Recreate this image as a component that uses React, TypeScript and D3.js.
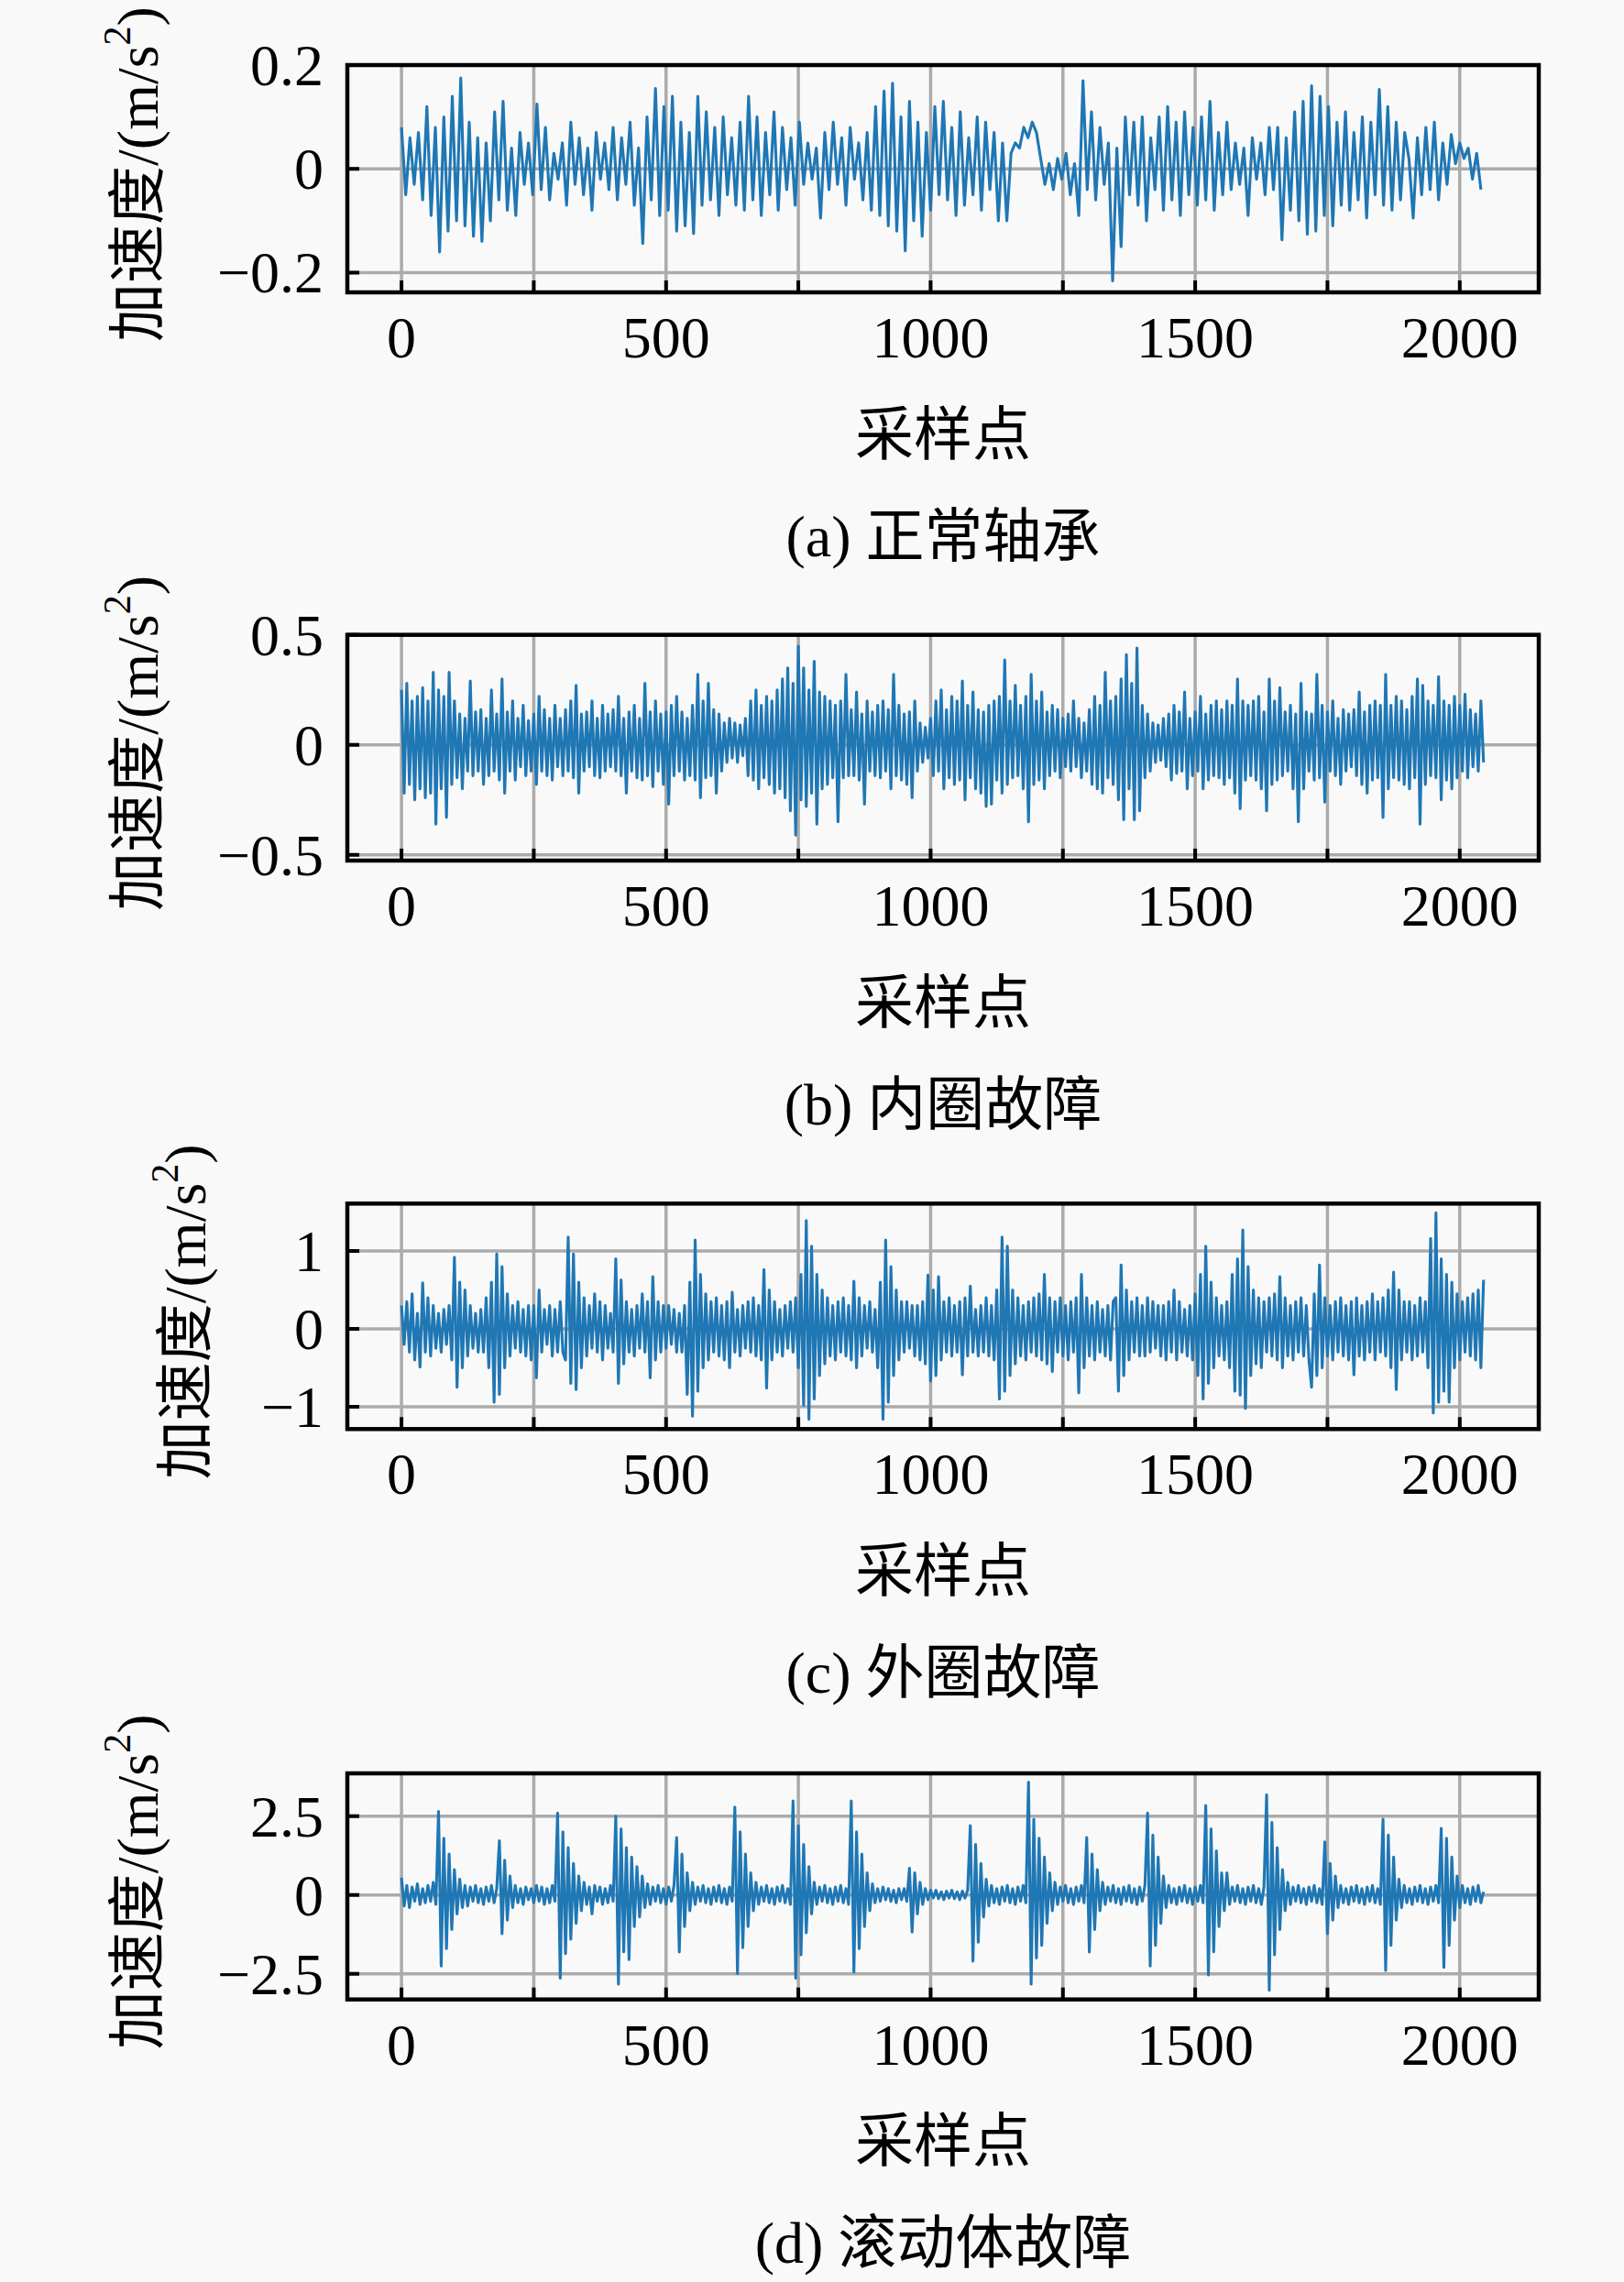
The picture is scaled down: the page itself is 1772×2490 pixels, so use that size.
import React from 'react';
import * as d3 from 'd3';

// sample index ticks (grid every 250, labels every 500)
const xGridTicks = [0, 250, 500, 750, 1000, 1250, 1500, 1750, 2000];
const xLabelTicks = [0, 500, 1000, 1500, 2000];

// (a) normal bearing, one value every 8 samples
const normalBearing = [
  0.08, -0.05, 0.06, -0.03, 0.07, -0.06, 0.12, -0.09, 0.08, -0.16, 0.10, -0.12, 0.14, -0.10, 0.175, -0.11,
  0.09, -0.13, 0.06, -0.14, 0.05, -0.10, 0.11, -0.06, 0.13, -0.08, 0.04, -0.09, 0.07, -0.03, 0.05, -0.05,
  0.125, -0.04, 0.08, -0.06, 0.03, -0.02, 0.05, -0.07, 0.09, -0.03, 0.06, -0.05, 0.04, -0.08, 0.07, -0.02,
  0.05, -0.04, 0.08, -0.06, 0.06, -0.03, 0.09, -0.07, 0.04, -0.144, 0.10, -0.06, 0.155, -0.09, 0.12, -0.08,
  0.14, -0.12, 0.09, -0.11, 0.07, -0.125, 0.14, -0.07, 0.11, -0.06, 0.08, -0.09, 0.10, -0.05, 0.06, -0.07,
  0.09, -0.08, 0.14, -0.06, 0.10, -0.09, 0.07, -0.05, 0.11, -0.08, 0.08, -0.04, 0.06, -0.07, 0.09, -0.03,
  0.05, -0.02, 0.04, -0.095, 0.07, -0.04, 0.09, -0.03, 0.06, -0.07, 0.08, -0.02, 0.05, -0.06, 0.07, -0.08,
  0.12, -0.09, 0.15, -0.11, 0.165, -0.12, 0.10, -0.158, 0.13, -0.10, 0.09, -0.13, 0.07, -0.08, 0.12, -0.05,
  0.13, -0.06, 0.08, -0.09, 0.11, -0.07, 0.06, -0.05, 0.10, -0.08, 0.09, -0.04, 0.07, -0.10, 0.05, -0.10,
  0.03, 0.05, 0.04, 0.08, 0.06, 0.09, 0.07, 0.02, -0.03, 0.01, -0.04, 0.02, -0.02, 0.03, -0.05, 0.01,
  -0.09, 0.17, -0.04, 0.11, -0.06, 0.08, -0.03, 0.05, -0.216, 0.04, -0.15, 0.10, -0.05, 0.09, -0.07, 0.10,
  -0.10, 0.06, -0.04, 0.10, -0.08, 0.12, -0.06, 0.09, -0.09, 0.11, -0.05, 0.08, -0.07, 0.10, -0.06, 0.13,
  -0.08, 0.07, -0.05, 0.09, -0.04, 0.05, -0.03, 0.04, -0.09, 0.06, -0.02, 0.05, -0.05, 0.08, -0.04, 0.08,
  -0.137, 0.06, -0.08, 0.11, -0.10, 0.13, -0.126, 0.16, -0.12, 0.14, -0.09, 0.12, -0.11, 0.09, -0.07, 0.11,
  -0.08, 0.07, -0.06, 0.10, -0.095, 0.09, -0.05, 0.153, -0.07, 0.12, -0.08, 0.09, -0.06, 0.07, 0.02, -0.095,
  0.06, -0.05, 0.08, -0.04, 0.09, -0.06, 0.05, -0.03, 0.066, 0.01, 0.05, 0.02, 0.04, -0.02, 0.03, -0.04,
];

// (b) inner race fault, one value every 5 samples
const innerRaceFault = [
  0.25, -0.22, 0.28, -0.18, 0.2, -0.25, 0.22, -0.2, 0.26, -0.24,
  0.2, -0.22, 0.33, -0.36, 0.25, -0.2, 0.22, -0.33, 0.33, -0.18,
  0.2, -0.15, 0.14, -0.2, 0.12, -0.12, 0.29, -0.14, 0.15, -0.12,
  0.16, -0.18, 0.12, -0.14, 0.25, -0.12, 0.14, -0.16, 0.3, -0.22,
  0.15, -0.12, 0.2, -0.16, 0.12, -0.1, 0.18, -0.14, 0.11, -0.12,
  0.14, -0.18, 0.22, -0.12, 0.16, -0.14, 0.12, -0.16, 0.18, -0.1,
  0.12, -0.14, 0.16, -0.12, 0.2, -0.15, 0.27, -0.22, 0.14, -0.12,
  0.15, -0.1, 0.2, -0.14, 0.12, -0.15, 0.18, -0.12, 0.14, -0.1,
  0.16, -0.12, 0.22, -0.14, 0.12, -0.22, 0.15, -0.12, 0.18, -0.15,
  0.12, -0.16, 0.28, -0.14, 0.15, -0.19, 0.2, -0.12, 0.14, -0.18,
  0.15, -0.27, 0.18, -0.14, 0.22, -0.12, 0.15, -0.16, 0.12, -0.14,
  0.18, -0.16, 0.32, -0.24, 0.2, -0.15, 0.28, -0.14, 0.16, -0.22,
  0.14, -0.12, 0.1, -0.08, 0.12, -0.06, 0.1, -0.08, 0.09, -0.05,
  0.12, -0.14, 0.2, -0.16, 0.25, -0.2, 0.18, -0.15, 0.22, -0.18,
  0.2, -0.22, 0.25, -0.2, 0.3, -0.24, 0.35, -0.3, 0.28, -0.41,
  0.449, -0.25, 0.35, -0.28, 0.25, -0.22, 0.38, -0.36, 0.24, -0.2,
  0.22, -0.18, 0.2, -0.15, 0.18, -0.35, 0.2, -0.15, 0.32, -0.14,
  0.16, -0.14, 0.24, -0.16, 0.14, -0.27, 0.2, -0.12, 0.15, -0.14,
  0.18, -0.15, 0.2, -0.12, 0.16, -0.2, 0.32, -0.14, 0.18, -0.16,
  0.14, -0.18, 0.15, -0.24, 0.2, -0.12, 0.1, -0.08, 0.08, -0.06,
  0.12, -0.14, 0.2, -0.12, 0.25, -0.2, 0.16, -0.15, 0.22, -0.18,
  0.2, -0.16, 0.29, -0.25, 0.18, -0.15, 0.24, -0.2, 0.16, -0.22,
  0.15, -0.28, 0.18, -0.27, 0.2, -0.16, 0.22, -0.22, 0.386, -0.18,
  0.2, -0.15, 0.27, -0.14, 0.18, -0.2, 0.22, -0.35, 0.32, -0.18,
  0.2, -0.16, 0.24, -0.2, 0.15, -0.14, 0.18, -0.12, 0.16, -0.15,
  0.12, -0.1, 0.14, -0.12, 0.2, -0.1, 0.12, -0.15, 0.1, -0.12,
  0.16, -0.18, 0.22, -0.2, 0.18, -0.22, 0.33, -0.15, 0.2, -0.18,
  0.22, -0.25, 0.3, -0.34, 0.41, -0.2, 0.28, -0.34, 0.44, -0.3,
  0.18, -0.15, 0.14, -0.12, 0.1, -0.08, 0.09, -0.07, 0.12, -0.1,
  0.14, -0.16, 0.18, -0.13, 0.15, -0.12, 0.24, -0.2, 0.12, -0.14,
  0.15, -0.12, 0.22, -0.2, 0.14, -0.16, 0.18, -0.14, 0.2, -0.15,
  0.16, -0.18, 0.2, -0.15, 0.18, -0.22, 0.3, -0.29, 0.2, -0.16,
  0.18, -0.14, 0.2, -0.16, 0.22, -0.2, 0.15, -0.3, 0.3, -0.18,
  0.2, -0.16, 0.26, -0.14, 0.15, -0.12, 0.18, -0.2, 0.14, -0.35,
  0.28, -0.2, 0.15, -0.12, 0.14, -0.16, 0.32, -0.15, 0.18, -0.26,
  0.15, -0.12, 0.2, -0.14, 0.12, -0.18, 0.16, -0.12, 0.14, -0.1,
  0.16, -0.14, 0.24, -0.18, 0.15, -0.22, 0.18, -0.16, 0.2, -0.15,
  0.18, -0.33, 0.32, -0.2, 0.18, -0.15, 0.22, -0.16, 0.2, -0.18,
  0.16, -0.2, 0.22, -0.15, 0.3, -0.36, 0.27, -0.18, 0.2, -0.14,
  0.18, -0.15, 0.31, -0.25, 0.2, -0.16, 0.18, -0.2, 0.22, -0.15,
  0.18, -0.12, 0.23, -0.15, 0.16, -0.1, 0.14, -0.12, 0.2, -0.08,
];

// (c) outer race fault, one value every 5 samples
const outerRaceFault = [
  0.3, -0.2, 0.35, -0.3, 0.45, -0.4, 0.2, -0.49, 0.59, -0.3,
  0.4, -0.35, 0.3, -0.25, 0.2, -0.3, 0.25, -0.2, 0.3, -0.4,
  0.92, -0.75, 0.6, -0.5, 0.5, -0.35, 0.3, -0.25, 0.2, -0.3,
  0.25, -0.3, 0.4, -0.5, 0.6, -0.94, 0.96, -0.84, 0.8, -0.5,
  0.45, -0.35, 0.3, -0.25, 0.35, -0.3, 0.25, -0.35, 0.3, -0.4,
  0.3, -0.63, 0.5, -0.3, 0.25, -0.2, 0.3, -0.35, 0.25, -0.3,
  0.35, -0.3, -0.4, 1.18, -0.7, 0.96, -0.78, 0.6, -0.5, 0.4,
  -0.35, 0.3, -0.25, 0.45, -0.3, 0.35, -0.4, 0.3, -0.25, 0.2,
  -0.3, 0.9, -0.7, 0.63, -0.45, 0.35, -0.3, 0.25, -0.35, 0.3,
  -0.25, 0.45, -0.3, 0.35, -0.63, 0.67, -0.4, 0.35, -0.3, 0.3,
  -0.25, 0.3, -0.2, 0.25, -0.3, 0.2, -0.3, 0.3, -0.84, 0.6,
  -1.12, 1.14, -0.8, 0.7, -0.5, 0.45, -0.4, 0.35, -0.3, 0.4,
  -0.35, 0.3, -0.4, 0.35, -0.5, 0.47, -0.3, 0.25, -0.35, 0.3,
  -0.25, 0.35, -0.3, 0.4, -0.35, 0.3, -0.4, 0.76, -0.76, 0.5,
  -0.4, 0.35, -0.3, 0.25, -0.35, 0.3, -0.25, 0.35, -0.3, 0.4,
  -0.5, 0.7, -0.98, 1.39, -1.16, 1.06, -0.9, 0.7, -0.6, 0.5,
  -0.45, 0.4, -0.35, 0.3, -0.4, 0.35, -0.3, 0.4, -0.35, 0.3,
  -0.4, 0.61, -0.5, 0.4, -0.35, 0.3, -0.25, 0.35, -0.3, 0.25,
  -0.5, 0.6, -1.16, 1.14, -0.94, 0.8, -0.6, 0.5, -0.4, 0.35,
  -0.3, 0.35, -0.25, 0.3, -0.35, 0.3, -0.4, 0.35, -0.45, 0.69,
  -0.67, 0.5, -0.6, 0.67, -0.4, 0.35, -0.3, 0.4, -0.35, 0.3,
  -0.3, 0.35, -0.59, 0.4, -0.35, 0.55, -0.3, 0.25, -0.35, 0.3,
  -0.3, 0.4, -0.35, 0.3, -0.4, 0.5, -0.9, 1.18, -0.8, 1.06,
  -0.6, 0.5, -0.45, 0.4, -0.35, 0.3, -0.4, 0.35, -0.3, 0.4,
  -0.35, 0.45, -0.4, 0.7, -0.45, 0.4, -0.55, 0.35, -0.3, 0.4,
  -0.35, 0.3, -0.4, 0.35, -0.3, 0.4, -0.82, 0.7, -0.5, 0.4,
  -0.35, 0.3, -0.4, 0.35, -0.3, 0.25, -0.35, 0.3, -0.4, 0.35,
  0.4, -0.8, 0.82, -0.6, 0.5, -0.4, 0.35, -0.3, 0.4, -0.35,
  0.3, -0.35, 0.4, -0.3, 0.35, -0.25, 0.3, -0.35, 0.3, -0.4,
  0.35, -0.3, 0.5, -0.4, 0.35, -0.3, 0.25, -0.35, 0.3, -0.4,
  0.45, -0.6, 0.7, -0.9, 1.06, -0.7, 0.6, -0.5, 0.4, -0.35,
  0.3, -0.4, 0.35, -0.5, 0.7, -0.8, 0.9, -0.85, 1.27, -1.02,
  0.8, -0.6, 0.5, -0.45, 0.4, -0.5, 0.35, -0.3, 0.4, -0.35,
  0.45, -0.4, 0.67, -0.5, 0.4, -0.35, 0.3, -0.4, 0.35, -0.3,
  0.4, -0.35, 0.3, -0.4, -0.75, 0.45, -0.6, 0.82, -0.5, 0.4,
  -0.35, 0.3, -0.4, 0.35, -0.3, 0.4, -0.35, 0.3, -0.4, 0.35,
  -0.59, 0.4, -0.35, 0.3, -0.4, 0.35, -0.3, 0.45, -0.4, 0.35,
  -0.3, 0.4, -0.35, 0.5, -0.5, 0.73, -0.78, 0.5, -0.4, 0.35,
  -0.3, 0.35, -0.4, 0.3, -0.35, 0.4, -0.3, 0.35, -0.5, 1.16,
  -1.08, 1.49, -0.94, 0.9, -0.8, 0.7, -0.94, 0.6, -0.5, 0.45,
  -0.4, 0.35, -0.3, 0.4, -0.35, 0.45, -0.4, 0.5, -0.5, 0.63,
];

// (d) rolling element fault, one value every 5 samples
const rollingElementFault = [
  0.55, -0.35, 0.3, -0.4, 0.25, -0.2, 0.35, -0.3, 0.2, -0.25,
  0.3, -0.2, 0.4, -0.3, 2.65, -2.25, 1.8, -1.7, 1.3, -1.1,
  0.8, -0.6, 0.5, -0.4, 0.3, -0.35, 0.25, -0.2, 0.3, -0.25,
  0.2, -0.3, 0.25, -0.2, 0.3, -0.25, 0.2, 1.72, -1.23, 1.1,
  -0.8, 0.6, -0.4, 0.3, -0.25, 0.2, -0.3, 0.25, -0.15, 0.2,
  -0.25, 0.3, -0.2, 0.25, -0.3, 0.2, -0.25, 0.3, -0.2, 2.6,
  -2.64, 2.0, -1.86, 1.5, -1.4, 1.0, -0.9, 0.6, -0.5, 0.4,
  -0.3, 0.25, -0.6, 0.3, -0.2, 0.25, -0.3, 0.2, -0.25, 0.3,
  -0.2, 2.5, -2.83, 2.1, -1.8, 1.5, -2.05, 1.2, -1.0, 0.9,
  -0.7, 0.6, -0.4, 0.35, -0.3, 0.25, -0.2, 0.3, -0.25, 0.2,
  -0.3, 0.25, -0.2, 0.3, 1.82, -1.81, 1.3, -1.0, 0.7, -0.5,
  0.4, -0.3, 0.25, -0.2, 0.3, -0.25, 0.2, -0.3, 0.25, -0.2,
  0.3, -0.25, 0.2, -0.3, 0.25, -0.2, 2.79, -2.49, 2.0, -1.67,
  1.3, -1.0, 0.7, -0.5, 0.4, -0.3, 0.25, -0.2, 0.3, -0.25,
  0.2, -0.3, 0.25, -0.2, 0.3, -0.25, 0.2, -0.3, 2.98, -2.64,
  2.2, -1.9, 1.6, -1.2, 0.9, -0.6, 0.4, -0.3, 0.25, -0.2,
  0.3, -0.25, 0.2, -0.3, 0.25, -0.2, 0.3, -0.25, 0.2, -0.3,
  2.98, -2.44, 2.0, -1.7, 1.3, -1.0, 0.7, -0.5, 0.35, -0.25,
  0.2, -0.2, 0.25, -0.15, 0.2, -0.2, 0.15, -0.25, 0.2, -0.15,
  0.2, -0.2, 0.85, -1.18, 0.7, -0.6, 0.4, -0.3, 0.2, -0.15,
  0.15, -0.1, 0.15, -0.12, 0.1, -0.15, 0.12, -0.1, 0.15, -0.12,
  0.1, -0.15, 0.12, -0.1, 0.15, 2.2, -2.1, 1.6, -1.5, 1.0,
  -0.7, 0.5, -0.35, 0.3, -0.25, 0.2, -0.3, 0.25, -0.2, 0.3,
  -0.25, 0.2, -0.3, 0.25, -0.2, 0.3, -0.25, 3.58, -2.83, 2.4,
  -2.0, 1.8, -1.6, 1.2, -0.9, 0.7, -0.5, 0.4, -0.3, 0.25,
  -0.2, 0.3, -0.25, 0.2, -0.3, 0.25, -0.2, 0.3, -0.25, 1.82,
  -1.81, 1.3, -1.1, 0.8, -0.5, 0.4, -0.3, 0.25, -0.2, 0.3,
  -0.25, 0.2, -0.3, 0.25, -0.2, 0.3, -0.25, 0.2, -0.3, 0.25,
  -0.2, 0.3, 2.6, -2.25, 1.9, -1.6, 1.2, -0.9, 0.6, -0.4,
  0.3, -0.25, 0.2, -0.3, 0.25, -0.2, 0.3, -0.25, 0.2, -0.3,
  0.25, -0.2, 0.3, -0.25, 2.84, -2.54, 2.1, -1.8, 1.4, -1.0,
  0.7, -0.5, 0.7, -0.3, 0.25, -0.2, 0.3, -0.25, 0.2, -0.3,
  0.25, -0.2, 0.3, -0.25, 0.2, -0.3, 0.25, 3.18, -3.02, 2.3,
  -1.9, 1.5, -1.1, 0.8, -0.5, 0.4, -0.3, 0.25, -0.2, 0.3,
  -0.25, 0.2, -0.3, 0.25, -0.2, 0.3, -0.25, 0.2, -0.3, 1.68,
  -1.23, 1.0, -0.8, 0.6, -0.4, 0.3, -0.25, 0.2, -0.3, 0.25,
  -0.2, 0.3, -0.25, 0.2, -0.3, 0.25, -0.2, 0.3, -0.25, 0.2,
  -0.3, 2.4, -2.39, 1.9, -1.6, 1.2, -0.8, 0.5, -0.4, 0.3,
  -0.25, 0.2, -0.3, 0.25, -0.2, 0.3, -0.25, 0.2, -0.3, 0.25,
  -0.2, 0.3, -0.25, 2.11, -2.3, 1.8, -1.6, 1.2, -0.8, 0.6,
  -0.4, 0.3, -0.25, 0.2, -0.3, 0.25, -0.2, 0.3, -0.25, 0.1,
];

const yTicksNormal = [-0.2, 0, 0.2];
const yTicksInner = [-0.5, 0, 0.5];
const yTicksOuter = [-1, 0, 1];
const yTicksRolling = [-2.5, 0, 2.5];

const captions = ['(a) 正常轴承', '(b) 内圈故障', '(c) 外圈故障', '(d) 滚动体故障'];
const xLabel = '采样点';

const FONT = "'Liberation Serif', 'Times New Roman', 'Noto Sans CJK SC', serif";
const FS = 64;
const LEFT = 379;
const RIGHT = 1679;

const panels = [
  { values: normalBearing, step: 8, yTicks: yTicksNormal, yDomain: [-0.238, 0.2], top: 71, bottom: 319, labelX: 150 },
  { values: innerRaceFault, step: 5, yTicks: yTicksInner, yDomain: [-0.526, 0.5], top: 692.7, bottom: 939, labelX: 150 },
  { values: outerRaceFault, step: 5, yTicks: yTicksOuter, yDomain: [-1.286, 1.608], top: 1313.3, bottom: 1559.3, labelX: 202 },
  { values: rollingElementFault, step: 5, yTicks: yTicksRolling, yDomain: [-3.314, 3.857], top: 1935, bottom: 2181.7, labelX: 150 },
];

const fmt = (v: number) => String(v).replace('-', '\u2212');

const Panel = ({ cfg, caption }: { cfg: any; caption: string }) => {
  const x = d3.scaleLinear().domain([-102.35, 2149.35]).range([LEFT, RIGHT]);
  const y = d3.scaleLinear().domain(cfg.yDomain).range([cfg.bottom, cfg.top]);
  const line = d3
    .line<number>()
    .x((_, i) => x(i * cfg.step))
    .y((d) => y(d));
  const midX = (LEFT + RIGHT) / 2;
  const midY = (cfg.top + cfg.bottom) / 2 - 5;

  return (
    <g>
      {xGridTicks.map((t) => (
        <line key={'gx' + t} x1={x(t)} x2={x(t)} y1={cfg.top} y2={cfg.bottom} stroke="#ababab" strokeWidth={3.5} />
      ))}
      {cfg.yTicks.map((t: number) => (
        <line key={'gy' + t} x1={LEFT} x2={RIGHT} y1={y(t)} y2={y(t)} stroke="#ababab" strokeWidth={3.5} />
      ))}
      <path d={line(cfg.values) || ''} fill="none" stroke="#1f77b4" strokeWidth={3.1} strokeLinejoin="round" />
      {xGridTicks.map((t) => (
        <line key={'tx' + t} x1={x(t)} x2={x(t)} y1={cfg.bottom} y2={cfg.bottom - 13} stroke="#000" strokeWidth={4} />
      ))}
      {cfg.yTicks.map((t: number) => (
        <line key={'ty' + t} x1={LEFT} x2={LEFT + 13} y1={y(t)} y2={y(t)} stroke="#000" strokeWidth={4} />
      ))}
      <rect x={LEFT} y={cfg.top} width={RIGHT - LEFT} height={cfg.bottom - cfg.top} fill="none" stroke="#000" strokeWidth={4.5} />
      {xLabelTicks.map((t) => (
        <text key={'lx' + t} x={x(t)} y={cfg.bottom + 71} textAnchor="middle" fontFamily={FONT} fontSize={FS}>
          {fmt(t)}
        </text>
      ))}
      {cfg.yTicks.map((t: number) => (
        <text key={'ly' + t} x={LEFT - 26} y={y(t) + 22} textAnchor="end" fontFamily={FONT} fontSize={FS}>
          {fmt(t)}
        </text>
      ))}
      <text
        transform={`translate(${cfg.labelX},${midY}) rotate(-90)`}
        textAnchor="middle"
        dominantBaseline="central"
        fontFamily={FONT}
        fontSize={FS}
      >
        加速度/(m/s
        <tspan fontSize={42} dy={-22}>2</tspan>
        <tspan dy={22}>)</tspan>
      </text>
      <text x={midX} y={cfg.bottom + 155} textAnchor="middle" dominantBaseline="central" fontFamily={FONT} fontSize={FS}>
        {xLabel}
      </text>
      <text x={midX} y={cfg.bottom + 266} textAnchor="middle" dominantBaseline="central" fontFamily={FONT} fontSize={FS}>
        {caption}
      </text>
    </g>
  );
};

export default function App() {
  return (
    <svg
      width={1772}
      height={2490}
      style={{ position: 'absolute', left: 0, top: 0, display: 'block' }}
    >
      <rect width={1772} height={2490} fill="#f9f9f9" />
      {panels.map((p, i) => (
        <Panel key={i} cfg={p} caption={captions[i]} />
      ))}
    </svg>
  );
}
